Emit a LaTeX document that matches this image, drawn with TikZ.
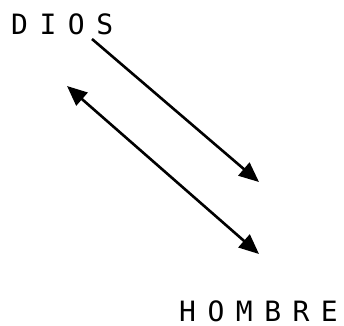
\documentclass[tikz,border=0pt]{standalone}
\usepackage{fontspec}
\newfontfamily\lblfont{DejaVu Sans Mono}
\def\lsp{\kern11.5pt}
\usetikzlibrary{arrows.meta}
\begin{document}
\begin{tikzpicture}[x=1pt,y=-1pt,
  lbl/.style={font=\lblfont\fontsize{28}{32}\selectfont, inner sep=0pt},
  tip/.tip={Triangle[length=20pt,width=17pt]},
  conn/.style={line width=2.6pt, -tip},
  bconn/.style={line width=2.6pt, tip-tip}]
\useasboundingbox (0,0) rectangle (344,325);
\node[lbl, anchor=base west] (dios) at (11,34) {D\lsp I\lsp O\lsp S};
\node[lbl, anchor=base west] (hombre) at (179,321) {H\lsp O\lsp M\lsp B\lsp R\lsp E};
\coordinate (a1) at (92,39);
\coordinate (a2) at (259,182);
\coordinate (b1) at (67,86);
\coordinate (b2) at (259,254);
\draw[conn] (a1) -- (a2);
\draw[bconn] (b1) -- (b2);
\end{tikzpicture}
\end{document}
